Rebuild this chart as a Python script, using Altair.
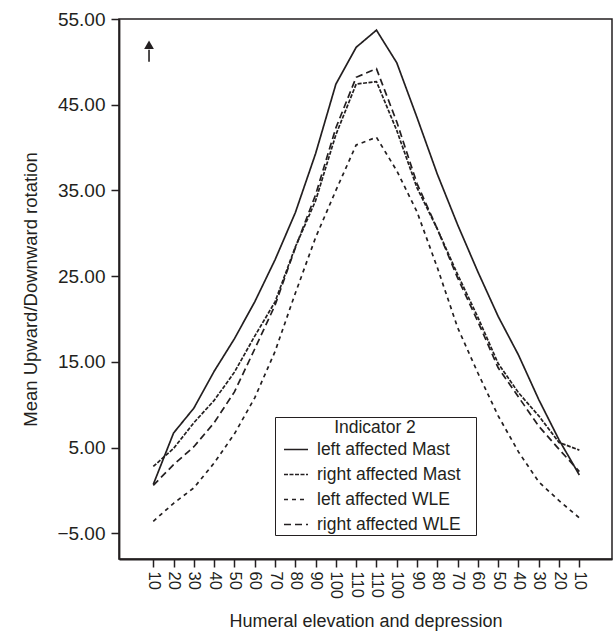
import altair as alt
import pandas as pd

x_labels = ["10", "20", "30", "40", "50", "60", "70", "80", "90", "100", "110",
            "110", "100", "90", "80", "70", "60", "50", "40", "30", "20", "10"]

series_names = ["left affected Mast", "right affected Mast",
                "left affected WLE", "right affected WLE"]

left_mast = [0.7, 6.7, 9.6, 13.9, 17.7, 22.0, 26.9, 32.4, 39.3, 47.4, 51.7,
             53.7, 49.9, 43.5, 36.9, 31.0, 25.5, 20.3, 15.8, 10.6, 5.9, 1.8]
right_mast = [2.8, 4.9, 7.9, 10.5, 13.8, 18.0, 22.0, 28.4, 33.8, 41.5, 47.4,
              47.7, 42.0, 35.3, 30.5, 25.2, 20.2, 14.8, 11.4, 8.7, 5.6, 4.7]
left_wle = [-3.6, -1.5, 0.3, 3.2, 6.6, 10.8, 16.2, 23.0, 29.5, 35.0, 40.3,
            41.2, 37.3, 32.5, 26.0, 19.0, 13.7, 8.7, 4.5, 1.0, -1.2, -3.2]
right_wle = [0.6, 3.0, 5.1, 7.9, 11.5, 16.5, 21.6, 28.3, 34.5, 42.3, 48.2,
             49.2, 43.0, 35.8, 30.5, 24.8, 19.7, 14.3, 10.9, 7.5, 4.8, 2.2]

y_ticks = [-5, 5, 15, 25, 35, 45, 55]
dash_patterns = [[1, 0], [4, 1.5], [4, 4], [7, 4]]

INK = "#231f20"
FONT = "Liberation Sans"

rows = []
for name, vals in zip(series_names, [left_mast, right_mast, left_wle, right_wle]):
    for i, v in enumerate(vals):
        rows.append({"idx": i, "value": v, "series": name})
df = pd.DataFrame(rows)

label_array = "[" + ",".join("'" + s + "'" for s in x_labels) + "]"

x_scale = alt.Scale(domain=[-1.69, 22.61], nice=False, zero=False)
y_scale = alt.Scale(domain=[-8, 55], nice=False, zero=False)

lines = alt.Chart(df).mark_line(color=INK, strokeWidth=1.7).encode(
    x=alt.X("idx:Q", scale=x_scale,
            axis=alt.Axis(title="Humeral elevation and depression",
                          values=list(range(len(x_labels))), tickCount=40,
                          labelExpr=label_array + "[datum.value]",
                          labelAngle=90, labelAlign="left", labelBaseline="middle",
                          labelPadding=4, tickSize=8, titlePadding=14,
                          labelFontSize=16.5, titleFontSize=18,
                          grid=False, labelFlush=False, labelOverlap=False)),
    y=alt.Y("value:Q", scale=y_scale,
            axis=alt.Axis(title="Mean Upward/Downward rotation",
                          values=y_ticks,
                          labelExpr="replace(format(datum.value, '.2f'), '-', '–')",
                          labelFontSize=19, titleFontSize=18.5,
                          tickSize=8, labelPadding=6, titlePadding=16, grid=False)),
    strokeDash=alt.StrokeDash(
        "series:N",
        scale=alt.Scale(domain=series_names, range=dash_patterns),
        legend=alt.Legend(title="Indicator 2", orient="none", legendX=156, legendY=398,
                          titleAnchor="middle", titleFontSize=17.5, titleFontWeight="normal",
                          titleColor=INK, titleFont=FONT, titlePadding=0,
                          labelFont=FONT, labelFontSize=17.5, labelColor=INK, labelOffset=8,
                          labelLimit=400,
                          symbolType="stroke", symbolSize=576, symbolStrokeWidth=1.5,
                          symbolStrokeColor=INK, symbolOffset=6,
                          strokeColor=INK, fillColor="white", padding=2,
                          rowPadding=3,
                          labelExpr="datum.label + '\u2800'")),
    detail="series:N",
)

arrow_df = pd.DataFrame({"x": [-0.21], "y0": [50.0], "y1": [51.4], "yh": [52.0]})
arrow_stem = alt.Chart(arrow_df).mark_rule(color=INK, strokeWidth=1.6).encode(
    x=alt.X("x:Q", scale=x_scale), y=alt.Y("y0:Q", scale=y_scale), y2="y1:Q")
arrow_head = alt.Chart(arrow_df).mark_point(shape="triangle-up", filled=True, color=INK,
                                            size=95, opacity=1).encode(
    x=alt.X("x:Q", scale=x_scale), y=alt.Y("yh:Q", scale=y_scale))

chart = alt.layer(lines, arrow_stem, arrow_head).properties(
    width=493, height=540,
    autosize=alt.AutoSizeParams(type="none"),
    padding={"left": 119, "top": 19, "right": 1, "bottom": 75},
    background="white",
).configure_view(stroke=INK, strokeWidth=1.5).configure_axis(
    domainColor=INK, domainWidth=1.8, tickColor=INK, tickWidth=1.5,
    labelFont=FONT, titleFont=FONT,
    labelColor=INK, titleColor=INK, titleFontWeight="normal",
)

chart.save("out.html", embed_options={"renderer": "svg", "actions": False})
